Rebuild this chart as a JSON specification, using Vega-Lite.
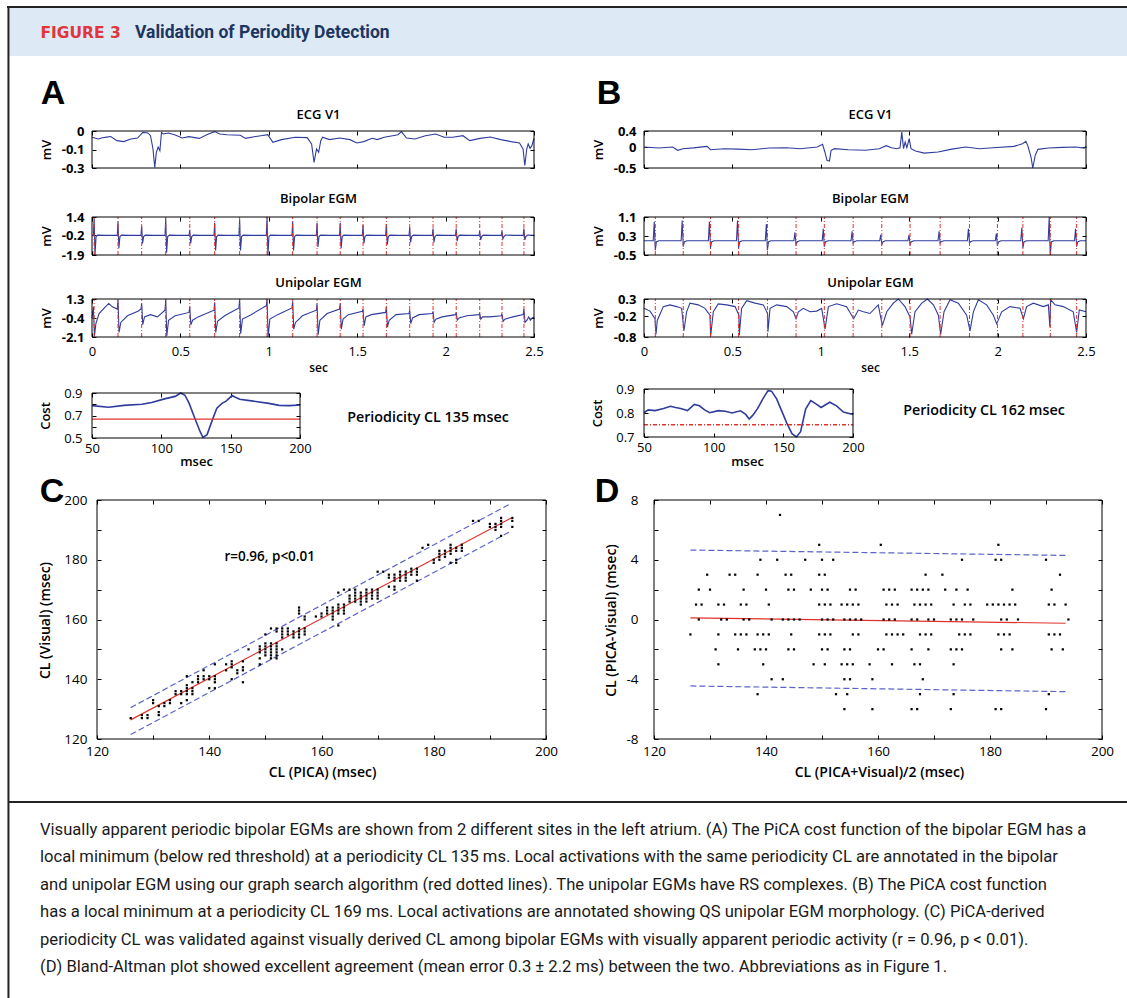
{
"$schema":"https://vega.github.io/schema/vega-lite/v6.json",
"width":1127,"height":998,"autosize":{"type":"none"},"padding":0,"background":"white",
"config":{"view":{"stroke":null},
"axis":{"grid":false,"domain":false,"ticks":true,"tickColor":"#000","tickSize":-4,"tickWidth":1,"labelFont":"Open Sans","labelFontSize":13,"labelColor":"#000","labelPadding":12,"labelFlush":false,"labelOverlap":false,"titleFont":"Open Sans","titleFontSize":13,"titleFontWeight":600,"titleColor":"#000","titlePadding":0}},
"data":{"values":[{}]},
"datasets":{
"ea":[{"t":0,"v":-0.05},{"t":0.035,"v":-0.065},{"t":0.06,"v":-0.055},{"t":0.083,"v":-0.05},{"t":0.106,"v":-0.045},{"t":0.141,"v":-0.078},{"t":0.18,"v":-0.086},{"t":0.219,"v":-0.065},{"t":0.258,"v":-0.057},{"t":0.287,"v":-0.011},{"t":0.316,"v":-0.016},{"t":0.331,"v":-0.038},{"t":0.345,"v":-0.146},{"t":0.355,"v":-0.295},{"t":0.364,"v":-0.173},{"t":0.374,"v":-0.13},{"t":0.384,"v":-0.16},{"t":0.393,"v":-0.011},{"t":0.403,"v":-0.024},{"t":0.432,"v":-0.016},{"t":0.471,"v":-0.032},{"t":0.51,"v":-0.057},{"t":0.548,"v":-0.046},{"t":0.607,"v":-0.06},{"t":0.655,"v":-0.027},{"t":0.694,"v":-0.005},{"t":0.723,"v":-0.024},{"t":0.762,"v":-0.03},{"t":0.839,"v":-0.035},{"t":0.868,"v":-0.06},{"t":0.917,"v":-0.046},{"t":0.955,"v":-0.038},{"t":0.994,"v":-0.03},{"t":1.023,"v":-0.092},{"t":1.072,"v":-0.07},{"t":1.149,"v":-0.051},{"t":1.217,"v":-0.054},{"t":1.242,"v":-0.105},{"t":1.256,"v":-0.254},{"t":1.27,"v":-0.146},{"t":1.282,"v":-0.173},{"t":1.294,"v":-0.078},{"t":1.304,"v":-0.051},{"t":1.343,"v":-0.07},{"t":1.401,"v":-0.057},{"t":1.459,"v":-0.07},{"t":1.498,"v":-0.097},{"t":1.537,"v":-0.086},{"t":1.585,"v":-0.059},{"t":1.614,"v":-0.07},{"t":1.653,"v":-0.051},{"t":1.731,"v":-0.03},{"t":1.75,"v":-0.005},{"t":1.779,"v":-0.057},{"t":1.827,"v":-0.065},{"t":1.886,"v":-0.038},{"t":1.944,"v":-0.024},{"t":1.992,"v":-0.051},{"t":2.04,"v":-0.051},{"t":2.098,"v":-0.038},{"t":2.137,"v":-0.078},{"t":2.195,"v":-0.06},{"t":2.253,"v":-0.049},{"t":2.312,"v":-0.07},{"t":2.37,"v":-0.086},{"t":2.418,"v":-0.097},{"t":2.438,"v":-0.146},{"t":2.448,"v":-0.28},{"t":2.459,"v":-0.146},{"t":2.467,"v":-0.105},{"t":2.478,"v":-0.14},{"t":2.488,"v":-0.119},{"t":2.5,"v":-0.06}],
"eb":[{"t":0,"v":0.01},{"t":0.084,"v":-0.015},{"t":0.162,"v":0.01},{"t":0.191,"v":-0.07},{"t":0.22,"v":-0.03},{"t":0.28,"v":-0.01},{"t":0.357,"v":0.026},{"t":0.376,"v":-0.055},{"t":0.454,"v":-0.03},{"t":0.532,"v":-0.04},{"t":0.61,"v":-0.055},{"t":0.708,"v":-0.015},{"t":0.805,"v":-0.007},{"t":0.883,"v":-0.03},{"t":0.98,"v":0.01},{"t":1.01,"v":0.075},{"t":1.023,"v":-0.11},{"t":1.035,"v":-0.315},{"t":1.049,"v":-0.33},{"t":1.058,"v":-0.07},{"t":1.078,"v":-0.03},{"t":1.156,"v":-0.055},{"t":1.253,"v":-0.07},{"t":1.331,"v":-0.03},{"t":1.37,"v":0.042},{"t":1.4,"v":-0.007},{"t":1.429,"v":-0.03},{"t":1.448,"v":-0.007},{"t":1.458,"v":0.375},{"t":1.468,"v":-0.03},{"t":1.477,"v":0.132},{"t":1.487,"v":-0.007},{"t":1.5,"v":0.213},{"t":1.51,"v":-0.03},{"t":1.536,"v":-0.088},{"t":1.585,"v":-0.137},{"t":1.663,"v":-0.112},{"t":1.741,"v":-0.04},{"t":1.819,"v":0.01},{"t":1.897,"v":-0.03},{"t":1.975,"v":-0.007},{"t":2.092,"v":0.026},{"t":2.141,"v":0.09},{"t":2.16,"v":0.148},{"t":2.17,"v":0.05},{"t":2.189,"v":-0.234},{"t":2.199,"v":-0.5},{"t":2.213,"v":-0.19},{"t":2.228,"v":-0.047},{"t":2.287,"v":-0.015},{"t":2.365,"v":0.002},{"t":2.442,"v":0.01},{"t":2.49,"v":-0.015},{"t":2.5,"v":0.026}],
"ba":[{"t":0,"v":-0.2},{"t":0.008,"v":-0.2},{"t":0.012,"v":1.3},{"t":0.017,"v":-1.9},{"t":0.023,"v":-0.3},{"t":0.032,"v":-0.17},{"t":0.08,"v":-0.2},{"t":0.143,"v":-0.2},{"t":0.147,"v":1.0},{"t":0.152,"v":-1.3},{"t":0.158,"v":-0.3},{"t":0.167,"v":-0.17},{"t":0.215,"v":-0.2},{"t":0.277,"v":-0.2},{"t":0.281,"v":0.6},{"t":0.286,"v":-0.9},{"t":0.292,"v":-0.3},{"t":0.301,"v":-0.17},{"t":0.35,"v":-0.2},{"t":0.413,"v":-0.2},{"t":0.417,"v":1.3},{"t":0.422,"v":-1.7},{"t":0.428,"v":-0.3},{"t":0.437,"v":-0.17},{"t":0.485,"v":-0.2},{"t":0.549,"v":-0.2},{"t":0.553,"v":0.3},{"t":0.558,"v":-0.9},{"t":0.564,"v":-0.3},{"t":0.573,"v":-0.17},{"t":0.62,"v":-0.2},{"t":0.69,"v":-0.2},{"t":0.694,"v":0.9},{"t":0.699,"v":-1.5},{"t":0.705,"v":-0.3},{"t":0.714,"v":-0.17},{"t":0.76,"v":-0.2},{"t":0.831,"v":-0.2},{"t":0.835,"v":1.2},{"t":0.84,"v":-1.5},{"t":0.846,"v":-0.3},{"t":0.855,"v":-0.17},{"t":0.9,"v":-0.2},{"t":0.986,"v":-0.2},{"t":0.99,"v":1.4},{"t":0.995,"v":-1.9},{"t":1.001,"v":-0.3},{"t":1.01,"v":-0.17},{"t":1.06,"v":-0.2},{"t":1.131,"v":-0.2},{"t":1.135,"v":1.0},{"t":1.14,"v":-1.5},{"t":1.146,"v":-0.3},{"t":1.155,"v":-0.17},{"t":1.2,"v":-0.2},{"t":1.269,"v":-0.2},{"t":1.273,"v":0.9},{"t":1.278,"v":-1.2},{"t":1.284,"v":-0.3},{"t":1.293,"v":-0.17},{"t":1.34,"v":-0.2},{"t":1.4,"v":-0.2},{"t":1.404,"v":0.9},{"t":1.409,"v":-1.3},{"t":1.415,"v":-0.3},{"t":1.424,"v":-0.17},{"t":1.47,"v":-0.2},{"t":1.529,"v":-0.2},{"t":1.533,"v":0.7},{"t":1.538,"v":-0.9},{"t":1.544,"v":-0.3},{"t":1.553,"v":-0.17},{"t":1.6,"v":-0.2},{"t":1.661,"v":-0.2},{"t":1.665,"v":0.8},{"t":1.67,"v":-1.0},{"t":1.676,"v":-0.3},{"t":1.685,"v":-0.17},{"t":1.73,"v":-0.2},{"t":1.793,"v":-0.2},{"t":1.797,"v":0.5},{"t":1.802,"v":-0.8},{"t":1.808,"v":-0.3},{"t":1.817,"v":-0.17},{"t":1.86,"v":-0.2},{"t":1.925,"v":-0.2},{"t":1.929,"v":0.4},{"t":1.934,"v":-0.8},{"t":1.94,"v":-0.3},{"t":1.949,"v":-0.17},{"t":2.0,"v":-0.2},{"t":2.056,"v":-0.2},{"t":2.06,"v":0.4},{"t":2.065,"v":-0.7},{"t":2.071,"v":-0.3},{"t":2.08,"v":-0.17},{"t":2.13,"v":-0.2},{"t":2.189,"v":-0.2},{"t":2.193,"v":0.2},{"t":2.198,"v":-0.6},{"t":2.204,"v":-0.3},{"t":2.213,"v":-0.17},{"t":2.26,"v":-0.2},{"t":2.315,"v":-0.2},{"t":2.319,"v":0.2},{"t":2.324,"v":-0.5},{"t":2.33,"v":-0.3},{"t":2.339,"v":-0.17},{"t":2.39,"v":-0.2},{"t":2.439,"v":-0.2},{"t":2.443,"v":0.4},{"t":2.448,"v":-0.6},{"t":2.454,"v":-0.3},{"t":2.463,"v":-0.17},{"t":2.5,"v":-0.18}],
"ua":[{"t":0,"v":-0.4},{"t":0.008,"v":0.6},{"t":0.014,"v":-2.0},{"t":0.022,"v":-0.9},{"t":0.04,"v":0.0},{"t":0.07,"v":0.5},{"t":0.095,"v":0.9},{"t":0.115,"v":0.6},{"t":0.143,"v":0.4},{"t":0.147,"v":1.2},{"t":0.153,"v":-1.7},{"t":0.163,"v":-0.8},{"t":0.2,"v":-0.2},{"t":0.26,"v":0.2},{"t":0.277,"v":0.4},{"t":0.281,"v":0.9},{"t":0.287,"v":-1.0},{"t":0.297,"v":-0.3},{"t":0.33,"v":-0.1},{"t":0.37,"v":-0.3},{"t":0.413,"v":0.3},{"t":0.417,"v":1.3},{"t":0.423,"v":-2.0},{"t":0.433,"v":-0.6},{"t":0.47,"v":-0.2},{"t":0.549,"v":0.1},{"t":0.553,"v":0.6},{"t":0.559,"v":-1.0},{"t":0.569,"v":-0.6},{"t":0.6,"v":-0.3},{"t":0.69,"v":0.3},{"t":0.694,"v":1.0},{"t":0.7,"v":-1.7},{"t":0.71,"v":-0.7},{"t":0.75,"v":-0.2},{"t":0.831,"v":0.5},{"t":0.835,"v":1.3},{"t":0.841,"v":-1.8},{"t":0.851,"v":-0.5},{"t":0.9,"v":-0.1},{"t":0.986,"v":0.7},{"t":0.99,"v":1.3},{"t":0.996,"v":-2.1},{"t":1.006,"v":-0.5},{"t":1.05,"v":-0.1},{"t":1.131,"v":0.5},{"t":1.135,"v":1.1},{"t":1.141,"v":-1.4},{"t":1.151,"v":-0.8},{"t":1.19,"v":-0.2},{"t":1.269,"v":0.3},{"t":1.273,"v":0.9},{"t":1.279,"v":-1.9},{"t":1.289,"v":-0.6},{"t":1.33,"v":0.0},{"t":1.4,"v":0.4},{"t":1.404,"v":0.9},{"t":1.41,"v":-1.4},{"t":1.42,"v":-0.5},{"t":1.45,"v":-0.1},{"t":1.529,"v":0.2},{"t":1.533,"v":0.4},{"t":1.539,"v":-1.1},{"t":1.549,"v":-0.3},{"t":1.58,"v":-0.1},{"t":1.661,"v":0.1},{"t":1.665,"v":0.6},{"t":1.671,"v":-1.2},{"t":1.681,"v":-0.6},{"t":1.72,"v":-0.1},{"t":1.793,"v":0.0},{"t":1.797,"v":0.3},{"t":1.803,"v":-0.9},{"t":1.813,"v":-0.4},{"t":1.85,"v":-0.1},{"t":1.925,"v":0.0},{"t":1.929,"v":0.2},{"t":1.935,"v":-0.8},{"t":1.945,"v":-0.5},{"t":1.98,"v":-0.3},{"t":2.056,"v":-0.1},{"t":2.06,"v":0.1},{"t":2.066,"v":-0.6},{"t":2.076,"v":-0.4},{"t":2.12,"v":-0.2},{"t":2.189,"v":-0.1},{"t":2.193,"v":0.0},{"t":2.199,"v":-0.5},{"t":2.209,"v":-0.3},{"t":2.25,"v":-0.3},{"t":2.315,"v":-0.2},{"t":2.319,"v":0.0},{"t":2.325,"v":-0.7},{"t":2.335,"v":-0.5},{"t":2.38,"v":-0.3},{"t":2.439,"v":-0.1},{"t":2.443,"v":0.4},{"t":2.449,"v":-0.8},{"t":2.46,"v":-0.6},{"t":2.47,"v":-0.3},{"t":2.48,"v":-0.6},{"t":2.49,"v":-0.4},{"t":2.5,"v":-0.3}],
"bb":[{"t":0,"v":0.1},{"t":0.052,"v":0.1},{"t":0.058,"v":0.9},{"t":0.064,"v":-0.3},{"t":0.07,"v":0.05},{"t":0.084,"v":0.1},{"t":0.21,"v":0.1},{"t":0.216,"v":0.95},{"t":0.222,"v":-0.15},{"t":0.228,"v":0.05},{"t":0.242,"v":0.1},{"t":0.364,"v":0.1},{"t":0.37,"v":0.9},{"t":0.376,"v":-0.2},{"t":0.382,"v":0.05},{"t":0.396,"v":0.1},{"t":0.523,"v":0.1},{"t":0.529,"v":0.95},{"t":0.535,"v":-0.2},{"t":0.541,"v":0.05},{"t":0.555,"v":0.1},{"t":0.686,"v":0.1},{"t":0.692,"v":0.8},{"t":0.698,"v":-0.3},{"t":0.704,"v":0.05},{"t":0.718,"v":0.1},{"t":0.848,"v":0.1},{"t":0.854,"v":0.45},{"t":0.86,"v":-0.05},{"t":0.866,"v":0.05},{"t":0.88,"v":0.1},{"t":1.008,"v":0.1},{"t":1.014,"v":0.6},{"t":1.02,"v":-0.15},{"t":1.026,"v":0.05},{"t":1.04,"v":0.1},{"t":1.171,"v":0.1},{"t":1.177,"v":0.5},{"t":1.183,"v":0.0},{"t":1.189,"v":0.06},{"t":1.203,"v":0.1},{"t":1.333,"v":0.1},{"t":1.339,"v":0.35},{"t":1.345,"v":-0.05},{"t":1.351,"v":0.05},{"t":1.365,"v":0.1},{"t":1.493,"v":0.1},{"t":1.499,"v":0.35},{"t":1.505,"v":-0.05},{"t":1.511,"v":0.05},{"t":1.525,"v":0.1},{"t":1.663,"v":0.1},{"t":1.669,"v":0.5},{"t":1.675,"v":0.0},{"t":1.681,"v":0.06},{"t":1.695,"v":0.1},{"t":1.829,"v":0.1},{"t":1.835,"v":0.6},{"t":1.841,"v":0.0},{"t":1.847,"v":0.06},{"t":1.861,"v":0.1},{"t":1.987,"v":0.1},{"t":1.993,"v":0.4},{"t":1.999,"v":-0.1},{"t":2.005,"v":0.05},{"t":2.019,"v":0.1},{"t":2.131,"v":0.1},{"t":2.137,"v":0.65},{"t":2.143,"v":-0.2},{"t":2.149,"v":0.05},{"t":2.163,"v":0.1},{"t":2.286,"v":0.1},{"t":2.292,"v":1.1},{"t":2.298,"v":-0.5},{"t":2.304,"v":0.05},{"t":2.318,"v":0.1},{"t":2.435,"v":0.1},{"t":2.441,"v":0.6},{"t":2.447,"v":-0.15},{"t":2.453,"v":0.05},{"t":2.467,"v":0.1},{"t":2.5,"v":0.1}],
"ub":[{"t":0,"v":0.03},{"t":0.034,"v":-0.05},{"t":0.062,"v":-0.27},{"t":0.068,"v":-0.72},{"t":0.075,"v":-0.32},{"t":0.109,"v":0.08},{"t":0.147,"v":0.13},{"t":0.185,"v":0.08},{"t":0.213,"v":0.03},{"t":0.226,"v":-0.62},{"t":0.241,"v":-0.07},{"t":0.26,"v":0.18},{"t":0.307,"v":0.13},{"t":0.345,"v":0.03},{"t":0.373,"v":-0.17},{"t":0.377,"v":-0.77},{"t":0.392,"v":-0.07},{"t":0.42,"v":0.16},{"t":0.468,"v":0.13},{"t":0.515,"v":0.08},{"t":0.537,"v":-0.17},{"t":0.539,"v":-0.75},{"t":0.552,"v":0.03},{"t":0.581,"v":0.25},{"t":0.628,"v":0.18},{"t":0.675,"v":0.13},{"t":0.699,"v":-0.12},{"t":0.701,"v":-0.65},{"t":0.713,"v":0.03},{"t":0.75,"v":0.13},{"t":0.807,"v":0.08},{"t":0.845,"v":-0.07},{"t":0.86,"v":-0.27},{"t":0.873,"v":-0.07},{"t":0.901,"v":0.03},{"t":0.939,"v":-0.07},{"t":0.977,"v":-0.05},{"t":1.005,"v":0.03},{"t":1.024,"v":-0.57},{"t":1.043,"v":0.08},{"t":1.09,"v":0.16},{"t":1.146,"v":0.08},{"t":1.186,"v":-0.27},{"t":1.212,"v":-0.02},{"t":1.241,"v":-0.07},{"t":1.278,"v":-0.12},{"t":1.325,"v":0.13},{"t":1.348,"v":-0.47},{"t":1.373,"v":-0.07},{"t":1.41,"v":0.18},{"t":1.439,"v":0.3},{"t":1.476,"v":0.08},{"t":1.505,"v":-0.22},{"t":1.514,"v":-0.72},{"t":1.533,"v":-0.07},{"t":1.571,"v":0.18},{"t":1.603,"v":0.3},{"t":1.637,"v":0.13},{"t":1.665,"v":-0.17},{"t":1.678,"v":-0.72},{"t":1.697,"v":-0.07},{"t":1.731,"v":0.28},{"t":1.778,"v":0.18},{"t":1.825,"v":-0.17},{"t":1.844,"v":-0.62},{"t":1.863,"v":-0.07},{"t":1.891,"v":0.28},{"t":1.938,"v":0.13},{"t":1.976,"v":-0.17},{"t":1.995,"v":-0.42},{"t":2.023,"v":-0.07},{"t":2.07,"v":0.08},{"t":2.127,"v":0.03},{"t":2.146,"v":-0.27},{"t":2.164,"v":0.08},{"t":2.202,"v":0.18},{"t":2.259,"v":0.08},{"t":2.287,"v":0.13},{"t":2.296,"v":-0.52},{"t":2.3,"v":0.28},{"t":2.325,"v":0.13},{"t":2.372,"v":0.08},{"t":2.428,"v":-0.07},{"t":2.447,"v":-0.67},{"t":2.462,"v":-0.02},{"t":2.5,"v":-0.07}],
"ra":[{"t":0.012},{"t":0.147},{"t":0.281},{"t":0.417},{"t":0.553},{"t":0.694},{"t":0.835},{"t":0.99},{"t":1.135},{"t":1.273},{"t":1.404},{"t":1.533},{"t":1.665},{"t":1.797},{"t":1.929},{"t":2.06},{"t":2.193},{"t":2.319},{"t":2.443}],
"rb":[{"t":0.064},{"t":0.222},{"t":0.376},{"t":0.535},{"t":0.698},{"t":0.86},{"t":1.02},{"t":1.183},{"t":1.345},{"t":1.505},{"t":1.675},{"t":1.841},{"t":1.999},{"t":2.143},{"t":2.298},{"t":2.447}],
"ca":[{"ms":50,"c":0.788},{"ms":62,"c":0.774},{"ms":73,"c":0.79},{"ms":86,"c":0.8},{"ms":93,"c":0.816},{"ms":103,"c":0.85},{"ms":110,"c":0.87},{"ms":114,"c":0.9},{"ms":117,"c":0.88},{"ms":120,"c":0.81},{"ms":124,"c":0.68},{"ms":128,"c":0.556},{"ms":130,"c":0.505},{"ms":133,"c":0.53},{"ms":136.5,"c":0.65},{"ms":140,"c":0.765},{"ms":144,"c":0.81},{"ms":146.5,"c":0.825},{"ms":149,"c":0.855},{"ms":151,"c":0.877},{"ms":153,"c":0.864},{"ms":156.5,"c":0.844},{"ms":165,"c":0.83},{"ms":177.5,"c":0.808},{"ms":185,"c":0.79},{"ms":192.5,"c":0.788},{"ms":200,"c":0.793}],
"cb":[{"ms":50,"c":0.801},{"ms":53,"c":0.813},{"ms":58,"c":0.81},{"ms":64,"c":0.819},{"ms":69,"c":0.828},{"ms":72.6,"c":0.823},{"ms":76.3,"c":0.819},{"ms":81.2,"c":0.81},{"ms":86.1,"c":0.836},{"ms":89.8,"c":0.83},{"ms":93.5,"c":0.813},{"ms":97.2,"c":0.801},{"ms":103.4,"c":0.81},{"ms":108.3,"c":0.807},{"ms":113.2,"c":0.8},{"ms":119.3,"c":0.809},{"ms":123,"c":0.794},{"ms":125.5,"c":0.775},{"ms":128,"c":0.79},{"ms":131.6,"c":0.819},{"ms":135.3,"c":0.859},{"ms":139,"c":0.893},{"ms":141.5,"c":0.891},{"ms":145.2,"c":0.859},{"ms":148.8,"c":0.809},{"ms":152.5,"c":0.758},{"ms":156.2,"c":0.714},{"ms":159.4,"c":0.7},{"ms":162.4,"c":0.722},{"ms":166,"c":0.816},{"ms":169.7,"c":0.852},{"ms":173.4,"c":0.838},{"ms":177.1,"c":0.823},{"ms":183.3,"c":0.845},{"ms":188.2,"c":0.83},{"ms":193.1,"c":0.804},{"ms":200,"c":0.794}],
"sc":[{"x":126,"y":127},{"x":128,"y":128},{"x":128,"y":127},{"x":129,"y":128},{"x":129,"y":127},{"x":130,"y":133},{"x":130,"y":132},{"x":131,"y":131},{"x":131,"y":129},{"x":131,"y":128},{"x":132,"y":132},{"x":132,"y":131},{"x":133,"y":133},{"x":133,"y":132},{"x":134,"y":136},{"x":134,"y":135},{"x":135,"y":136},{"x":135,"y":135},{"x":135,"y":132},{"x":136,"y":141},{"x":136,"y":138},{"x":136,"y":137},{"x":136,"y":136},{"x":136,"y":135},{"x":136,"y":133},{"x":137,"y":139},{"x":137,"y":137},{"x":137,"y":136},{"x":137,"y":135},{"x":138,"y":141},{"x":138,"y":140},{"x":138,"y":139},{"x":139,"y":143},{"x":139,"y":141},{"x":139,"y":140},{"x":140,"y":141},{"x":140,"y":140},{"x":140,"y":137},{"x":141,"y":145},{"x":141,"y":141},{"x":141,"y":140},{"x":141,"y":139},{"x":141,"y":137},{"x":143,"y":145},{"x":143,"y":143},{"x":144,"y":146},{"x":144,"y":145},{"x":144,"y":144},{"x":144,"y":140},{"x":145,"y":143},{"x":145,"y":142},{"x":146,"y":146},{"x":146,"y":144},{"x":146,"y":143},{"x":146,"y":139},{"x":147,"y":150},{"x":149,"y":151},{"x":149,"y":150},{"x":149,"y":149},{"x":149,"y":147},{"x":149,"y":145},{"x":150,"y":155},{"x":150,"y":152},{"x":150,"y":151},{"x":150,"y":150},{"x":150,"y":149},{"x":150,"y":148},{"x":151,"y":157},{"x":151,"y":152},{"x":151,"y":151},{"x":151,"y":150},{"x":151,"y":149},{"x":151,"y":148},{"x":151,"y":147},{"x":152,"y":157},{"x":152,"y":156},{"x":152,"y":152},{"x":152,"y":151},{"x":152,"y":150},{"x":152,"y":149},{"x":152,"y":148},{"x":152,"y":147},{"x":153,"y":157},{"x":153,"y":156},{"x":153,"y":155},{"x":153,"y":154},{"x":153,"y":150},{"x":154,"y":157},{"x":154,"y":156},{"x":154,"y":155},{"x":155,"y":156},{"x":155,"y":155},{"x":155,"y":154},{"x":156,"y":164},{"x":156,"y":163},{"x":156,"y":162},{"x":156,"y":157},{"x":156,"y":156},{"x":156,"y":155},{"x":156,"y":154},{"x":157,"y":161},{"x":157,"y":160},{"x":157,"y":157},{"x":157,"y":156},{"x":157,"y":155},{"x":159,"y":161},{"x":160,"y":162},{"x":160,"y":161},{"x":161,"y":164},{"x":161,"y":163},{"x":161,"y":162},{"x":162,"y":164},{"x":162,"y":163},{"x":162,"y":162},{"x":162,"y":161},{"x":162,"y":160},{"x":163,"y":169},{"x":163,"y":165},{"x":163,"y":164},{"x":163,"y":163},{"x":163,"y":162},{"x":163,"y":158},{"x":164,"y":170},{"x":164,"y":165},{"x":164,"y":164},{"x":164,"y":163},{"x":164,"y":162},{"x":165,"y":170},{"x":165,"y":168},{"x":165,"y":167},{"x":165,"y":166},{"x":166,"y":170},{"x":166,"y":169},{"x":166,"y":168},{"x":166,"y":167},{"x":166,"y":166},{"x":167,"y":169},{"x":167,"y":168},{"x":167,"y":167},{"x":167,"y":166},{"x":167,"y":165},{"x":168,"y":170},{"x":168,"y":169},{"x":168,"y":168},{"x":168,"y":167},{"x":168,"y":166},{"x":169,"y":170},{"x":169,"y":169},{"x":169,"y":168},{"x":169,"y":167},{"x":170,"y":176},{"x":170,"y":170},{"x":170,"y":169},{"x":170,"y":168},{"x":170,"y":167},{"x":171,"y":176},{"x":172,"y":175},{"x":172,"y":174},{"x":172,"y":171},{"x":173,"y":175},{"x":173,"y":174},{"x":173,"y":173},{"x":173,"y":171},{"x":173,"y":170},{"x":174,"y":176},{"x":174,"y":175},{"x":174,"y":174},{"x":174,"y":173},{"x":175,"y":176},{"x":175,"y":175},{"x":175,"y":174},{"x":175,"y":173},{"x":176,"y":177},{"x":176,"y":176},{"x":176,"y":175},{"x":177,"y":177},{"x":177,"y":176},{"x":177,"y":175},{"x":177,"y":173},{"x":178,"y":184},{"x":179,"y":185},{"x":180,"y":180},{"x":180,"y":179},{"x":181,"y":183},{"x":181,"y":182},{"x":181,"y":181},{"x":181,"y":180},{"x":182,"y":183},{"x":182,"y":182},{"x":182,"y":181},{"x":183,"y":185},{"x":183,"y":184},{"x":183,"y":183},{"x":183,"y":182},{"x":183,"y":179},{"x":184,"y":184},{"x":184,"y":183},{"x":184,"y":180},{"x":184,"y":179},{"x":185,"y":185},{"x":185,"y":184},{"x":185,"y":183},{"x":187,"y":193},{"x":188,"y":193},{"x":190,"y":192},{"x":190,"y":191},{"x":191,"y":192},{"x":191,"y":191},{"x":191,"y":190},{"x":192,"y":194},{"x":192,"y":193},{"x":192,"y":192},{"x":192,"y":191},{"x":192,"y":188},{"x":194,"y":194},{"x":194,"y":193},{"x":194,"y":191}],
"cfit":[{"x":126,"y":126.4},{"x":193.8,"y":194}],
"cband":[{"k":"u","x":126,"y":130.5},{"k":"u","x":193.8,"y":198.9},{"k":"l","x":126,"y":121.5},{"k":"l","x":193.8,"y":189.6}],
"sd":[{"x":142.5,"y":7},{"x":149.5,"y":5},{"x":160.5,"y":5},{"x":181.5,"y":5},{"x":139,"y":4},{"x":142,"y":4},{"x":147,"y":4},{"x":150,"y":4},{"x":152,"y":4},{"x":175,"y":4},{"x":181,"y":4},{"x":182,"y":4},{"x":190,"y":4},{"x":129.5,"y":3},{"x":133.5,"y":3},{"x":134.5,"y":3},{"x":138.5,"y":3},{"x":143.5,"y":3},{"x":144.5,"y":3},{"x":149.5,"y":3},{"x":150.5,"y":3},{"x":168.5,"y":3},{"x":171.5,"y":3},{"x":192.5,"y":3},{"x":128,"y":2},{"x":130,"y":2},{"x":136,"y":2},{"x":140,"y":2},{"x":144,"y":2},{"x":145,"y":2},{"x":148,"y":2},{"x":150,"y":2},{"x":151,"y":2},{"x":155,"y":2},{"x":156,"y":2},{"x":161,"y":2},{"x":162,"y":2},{"x":163,"y":2},{"x":166,"y":2},{"x":167,"y":2},{"x":168,"y":2},{"x":169,"y":2},{"x":172,"y":2},{"x":174,"y":2},{"x":176,"y":2},{"x":184,"y":2},{"x":191,"y":2},{"x":127.5,"y":1},{"x":128.5,"y":1},{"x":131.5,"y":1},{"x":132.5,"y":1},{"x":135.5,"y":1},{"x":136.5,"y":1},{"x":140.5,"y":1},{"x":149.5,"y":1},{"x":150.5,"y":1},{"x":151.5,"y":1},{"x":153.5,"y":1},{"x":154.5,"y":1},{"x":155.5,"y":1},{"x":156.5,"y":1},{"x":161.5,"y":1},{"x":162.5,"y":1},{"x":163.5,"y":1},{"x":166.5,"y":1},{"x":167.5,"y":1},{"x":168.5,"y":1},{"x":169.5,"y":1},{"x":173.5,"y":1},{"x":175.5,"y":1},{"x":176.5,"y":1},{"x":179.5,"y":1},{"x":180.5,"y":1},{"x":181.5,"y":1},{"x":182.5,"y":1},{"x":183.5,"y":1},{"x":184.5,"y":1},{"x":190.5,"y":1},{"x":191.5,"y":1},{"x":193.5,"y":1},{"x":128,"y":0},{"x":132,"y":0},{"x":133,"y":0},{"x":136,"y":0},{"x":137,"y":0},{"x":141,"y":0},{"x":143,"y":0},{"x":144,"y":0},{"x":145,"y":0},{"x":146,"y":0},{"x":150,"y":0},{"x":151,"y":0},{"x":152,"y":0},{"x":154,"y":0},{"x":155,"y":0},{"x":156,"y":0},{"x":157,"y":0},{"x":161,"y":0},{"x":162,"y":0},{"x":163,"y":0},{"x":166,"y":0},{"x":167,"y":0},{"x":169,"y":0},{"x":170,"y":0},{"x":173,"y":0},{"x":174,"y":0},{"x":175,"y":0},{"x":177,"y":0},{"x":182,"y":0},{"x":183,"y":0},{"x":185,"y":0},{"x":194,"y":0},{"x":126.5,"y":-1},{"x":131.5,"y":-1},{"x":134.5,"y":-1},{"x":135.5,"y":-1},{"x":136.5,"y":-1},{"x":138.5,"y":-1},{"x":139.5,"y":-1},{"x":140.5,"y":-1},{"x":144.5,"y":-1},{"x":149.5,"y":-1},{"x":150.5,"y":-1},{"x":151.5,"y":-1},{"x":155.5,"y":-1},{"x":156.5,"y":-1},{"x":161.5,"y":-1},{"x":162.5,"y":-1},{"x":163.5,"y":-1},{"x":164.5,"y":-1},{"x":167.5,"y":-1},{"x":168.5,"y":-1},{"x":169.5,"y":-1},{"x":174.5,"y":-1},{"x":175.5,"y":-1},{"x":176.5,"y":-1},{"x":181.5,"y":-1},{"x":182.5,"y":-1},{"x":183.5,"y":-1},{"x":190.5,"y":-1},{"x":191.5,"y":-1},{"x":192.5,"y":-1},{"x":131,"y":-2},{"x":135,"y":-2},{"x":138,"y":-2},{"x":139,"y":-2},{"x":140,"y":-2},{"x":144,"y":-2},{"x":145,"y":-2},{"x":150,"y":-2},{"x":151,"y":-2},{"x":154,"y":-2},{"x":155,"y":-2},{"x":160,"y":-2},{"x":161,"y":-2},{"x":166,"y":-2},{"x":169,"y":-2},{"x":173,"y":-2},{"x":174,"y":-2},{"x":175,"y":-2},{"x":182,"y":-2},{"x":184,"y":-2},{"x":191,"y":-2},{"x":193,"y":-2},{"x":131.5,"y":-3},{"x":139.5,"y":-3},{"x":148.5,"y":-3},{"x":150.5,"y":-3},{"x":153.5,"y":-3},{"x":154.5,"y":-3},{"x":155.5,"y":-3},{"x":158.5,"y":-3},{"x":162.5,"y":-3},{"x":166.5,"y":-3},{"x":167.5,"y":-3},{"x":173.5,"y":-3},{"x":141,"y":-4},{"x":143,"y":-4},{"x":154,"y":-4},{"x":155,"y":-4},{"x":159,"y":-4},{"x":168,"y":-4},{"x":138.5,"y":-5},{"x":152.5,"y":-5},{"x":154.5,"y":-5},{"x":167.5,"y":-5},{"x":173.5,"y":-5},{"x":190.5,"y":-5},{"x":154,"y":-6},{"x":159,"y":-6},{"x":166,"y":-6},{"x":167,"y":-6},{"x":173,"y":-6},{"x":181,"y":-6},{"x":182,"y":-6},{"x":190,"y":-6}],
"dfit":[{"x":126.5,"y":0.11},{"x":193.5,"y":-0.25}],
"dband":[{"k":"u","x":126.5,"y":4.65},{"k":"u","x":193.5,"y":4.29},{"k":"l","x":126.5,"y":-4.45},{"k":"l","x":193.5,"y":-4.83}],
"caption":[{"line":1,"text":"Visually apparent periodic bipolar EGMs are shown from 2 different sites in the left atrium. (A) The PiCA cost function of the bipolar EGM has a"},{"line":2,"text":"local minimum (below red threshold) at a periodicity CL 135 ms. Local activations with the same periodicity CL are annotated in the bipolar"},{"line":3,"text":"and unipolar EGM using our graph search algorithm (red dotted lines). The unipolar EGMs have RS complexes. (B) The PiCA cost function"},{"line":4,"text":"has a local minimum at a periodicity CL 169 ms. Local activations are annotated showing QS unipolar EGM morphology. (C) PiCA-derived"},{"line":5,"text":"periodicity CL was validated against visually derived CL among bipolar EGMs with visually apparent periodic activity (r = 0.96, p < 0.01)."},{"line":6,"text":"(D) Bland-Altman plot showed excellent agreement (mean error 0.3 ± 2.2 ms) between the two. Abbreviations as in Figure 1."}]
},
"layer":[
{"mark":{"type":"rect","color":"#dde9f5"},"encoding":{"x":{"datum":0.008,"type":"quantitative","scale":{"domain":[0,1],"range":[0,1127],"nice":false,"zero":false},"axis":null},"x2":{"datum":1},"y":{"datum":0.008,"type":"quantitative","scale":{"domain":[0,1],"range":[0,998],"nice":false,"zero":false},"axis":null},"y2":{"datum":0.0561}}},
{"mark":{"type":"rule","color":"#222","strokeWidth":2},"encoding":{"x":{"datum":0.0062,"type":"quantitative","scale":{"domain":[0,1],"range":[0,1127],"nice":false,"zero":false},"axis":null},"x2":{"datum":1},"y":{"datum":0.007,"type":"quantitative","scale":{"domain":[0,1],"range":[0,998],"nice":false,"zero":false},"axis":null}}},
{"mark":{"type":"rule","color":"#222","strokeWidth":2},"encoding":{"x":{"datum":0.0075,"type":"quantitative","scale":{"domain":[0,1],"range":[0,1127],"nice":false,"zero":false},"axis":null},"y":{"datum":0.006,"type":"quantitative","scale":{"domain":[0,1],"range":[0,998],"nice":false,"zero":false},"axis":null},"y2":{"datum":1}}},
{"mark":{"type":"rule","color":"#222","strokeWidth":2},"encoding":{"x":{"datum":0.0075,"type":"quantitative","scale":{"domain":[0,1],"range":[0,1127],"nice":false,"zero":false},"axis":null},"x2":{"datum":1},"y":{"datum":0.8036,"type":"quantitative","scale":{"domain":[0,1],"range":[0,998],"nice":false,"zero":false},"axis":null}}},
{"mark":{"type":"text","text":"FIGURE 3","font":"DejaVu Sans","fontWeight":"bold","fontSize":15.5,"color":"#e2353b","align":"left","baseline":"middle"},"encoding":{"x":{"datum":0.0359,"type":"quantitative","scale":{"domain":[0,1],"range":[0,1127],"nice":false,"zero":false},"axis":null},"y":{"datum":0.0335,"type":"quantitative","scale":{"domain":[0,1],"range":[0,998],"nice":false,"zero":false},"axis":null}}},
{"mark":{"type":"text","text":"Validation of Periodity Detection","font":"Roboto","fontWeight":"bold","fontSize":17.5,"color":"#1d3561","align":"left","baseline":"middle"},"encoding":{"x":{"datum":0.1198,"type":"quantitative","scale":{"domain":[0,1],"range":[0,1127],"nice":false,"zero":false},"axis":null},"y":{"datum":0.0335,"type":"quantitative","scale":{"domain":[0,1],"range":[0,998],"nice":false,"zero":false},"axis":null}}},
{"data":{"name":"caption"},"mark":{"type":"text","font":"Roboto","fontSize":16.6,"color":"#1a1a1a","align":"left","baseline":"middle"},"encoding":{"x":{"datum":0.0355,"type":"quantitative","scale":{"domain":[0,1],"range":[0,1127],"nice":false,"zero":false},"axis":null},"y":{"field":"line","type":"quantitative","scale":{"domain":[1,6],"range":[830,967],"nice":false,"zero":false},"axis":null},"text":{"field":"text"}}},

{"data":{"name":"ea"},"mark":{"type":"line","color":"#2f3c9e","strokeWidth":1.1},"encoding":{"x":{"field":"t","type":"quantitative","scale":{"domain":[0,2.5],"range":[92,534],"nice":false,"zero":false},"axis":{"orient":"bottom","offset":-830,"values":[0,0.5,1,1.5,2,2.5],"labels":false,"title":null}},"y":{"field":"v","type":"quantitative","scale":{"domain":[-0.3,0],"range":[168,131],"nice":false,"zero":false},"axis":{"orient":"left","offset":-92,"values":[-0.3,-0.15,0],"labelExpr":"datum.value == 0 ? '0' : datum.value > -0.2 ? '-0.1' : '-0.3'","labelFontWeight":"bold","title":"mV","titleX":-46,"titleY":149.5,"titleAngle":270,"titleAlign":"center","titleBaseline":"middle"}}}},
{"mark":{"type":"rect","filled":false,"color":"#000","strokeWidth":1},"encoding":{"x":{"datum":0,"type":"quantitative","scale":{"domain":[0,2.5],"range":[92,534],"nice":false,"zero":false},"axis":{"orient":"top","offset":-131,"values":[0,0.5,1,1.5,2,2.5],"labels":false,"title":"ECG V1","titleX":318,"titleY":-13,"titleAlign":"center","titleBaseline":"alphabetic"}},"x2":{"datum":2.5},"y":{"datum":-0.3,"type":"quantitative","scale":{"domain":[-0.3,0],"range":[168,131],"nice":false,"zero":false},"axis":{"orient":"right","offset":-593,"values":[-0.3,-0.15,0],"labels":false,"title":null}},"y2":{"datum":0}}},
{"mark":{"type":"text","text":"A","font":"Liberation Sans","fontWeight":"bold","fontSize":34,"color":"#000","align":"center","baseline":"middle"},"encoding":{"x":{"datum":-0.22,"type":"quantitative","scale":{"domain":[0,2.5],"range":[92,534],"nice":false,"zero":false},"axis":null},"y":{"datum":0.3,"type":"quantitative","scale":{"domain":[-0.3,0],"range":[168,131],"nice":false,"zero":false},"axis":null}}},

{"data":{"name":"ba"},"mark":{"type":"line","color":"#2f3c9e","strokeWidth":1.1},"encoding":{"x":{"field":"t","type":"quantitative","scale":{"domain":[0,2.5],"range":[92,534],"nice":false,"zero":false},"axis":{"orient":"bottom","offset":-743,"values":[0,0.5,1,1.5,2,2.5],"labels":false,"title":null}},"y":{"field":"v","type":"quantitative","scale":{"domain":[-1.9,1.4],"range":[255,217],"nice":false,"zero":false},"axis":{"orient":"left","offset":-92,"values":[-1.9,-0.2,1.4],"labelExpr":"'' + datum.value","labelFontWeight":"bold","title":"mV","titleX":-46,"titleY":236,"titleAngle":270,"titleAlign":"center","titleBaseline":"middle"}}}},
{"data":{"name":"ra"},"mark":{"type":"rule","color":"#e5322d","strokeWidth":1,"strokeDash":[4,2,1,2]},"encoding":{"x":{"field":"t","type":"quantitative","scale":{"domain":[0,2.5],"range":[92,534],"nice":false,"zero":false},"axis":null},"y":{"datum":-1.9,"type":"quantitative","scale":{"domain":[-1.9,1.4],"range":[255,217],"nice":false,"zero":false},"axis":null},"y2":{"datum":1.4}}},
{"mark":{"type":"rect","filled":false,"color":"#000","strokeWidth":1},"encoding":{"x":{"datum":0,"type":"quantitative","scale":{"domain":[0,2.5],"range":[92,534],"nice":false,"zero":false},"axis":{"orient":"top","offset":-217,"values":[0,0.5,1,1.5,2,2.5],"labels":false,"title":"Bipolar EGM","titleX":318,"titleY":-15,"titleAlign":"center","titleBaseline":"alphabetic"}},"x2":{"datum":2.5},"y":{"datum":-1.9,"type":"quantitative","scale":{"domain":[-1.9,1.4],"range":[255,217],"nice":false,"zero":false},"axis":{"orient":"right","offset":-593,"values":[-1.9,-0.2,1.4],"labels":false,"title":null}},"y2":{"datum":1.4}}},

{"data":{"name":"ua"},"mark":{"type":"line","color":"#2f3c9e","strokeWidth":1.1},"encoding":{"x":{"field":"t","type":"quantitative","scale":{"domain":[0,2.5],"range":[92,534],"nice":false,"zero":false},"axis":{"orient":"bottom","offset":-661,"values":[0,0.5,1,1.5,2,2.5],"labelExpr":"'' + datum.value","title":"sec","titleX":318,"titleY":34,"titleAlign":"center","titleBaseline":"alphabetic","titleFontSize":12}},"y":{"field":"v","type":"quantitative","scale":{"domain":[-2.1,1.3],"range":[337,299],"nice":false,"zero":false},"axis":{"orient":"left","offset":-92,"values":[-2.1,-0.4,1.3],"labelExpr":"'' + datum.value","labelFontWeight":"bold","title":"mV","titleX":-46,"titleY":318,"titleAngle":270,"titleAlign":"center","titleBaseline":"middle"}}}},
{"data":{"name":"ra"},"mark":{"type":"rule","color":"#e5322d","strokeWidth":1,"strokeDash":[4,2,1,2]},"encoding":{"x":{"field":"t","type":"quantitative","scale":{"domain":[0,2.5],"range":[92,534],"nice":false,"zero":false},"axis":null},"y":{"datum":-2.1,"type":"quantitative","scale":{"domain":[-2.1,1.3],"range":[337,299],"nice":false,"zero":false},"axis":null},"y2":{"datum":1.3}}},
{"mark":{"type":"rect","filled":false,"color":"#000","strokeWidth":1},"encoding":{"x":{"datum":0,"type":"quantitative","scale":{"domain":[0,2.5],"range":[92,534],"nice":false,"zero":false},"axis":{"orient":"top","offset":-299,"values":[0,0.5,1,1.5,2,2.5],"labels":false,"title":"Unipolar EGM","titleX":318,"titleY":-13,"titleAlign":"center","titleBaseline":"alphabetic"}},"x2":{"datum":2.5},"y":{"datum":-2.1,"type":"quantitative","scale":{"domain":[-2.1,1.3],"range":[337,299],"nice":false,"zero":false},"axis":{"orient":"right","offset":-593,"values":[-2.1,-0.4,1.3],"labels":false,"title":null}},"y2":{"datum":1.3}}},

{"data":{"name":"eb"},"mark":{"type":"line","color":"#2f3c9e","strokeWidth":1.1},"encoding":{"x":{"field":"t","type":"quantitative","scale":{"domain":[0,2.5],"range":[644,1086],"nice":false,"zero":false},"axis":{"orient":"bottom","offset":-830,"values":[0,0.5,1,1.5,2,2.5],"labels":false,"title":null}},"y":{"field":"v","type":"quantitative","scale":{"domain":[-0.5,0.4],"range":[168,131],"nice":false,"zero":false},"axis":{"orient":"left","offset":-644,"values":[-0.5,0,0.4],"labelExpr":"'' + datum.value","labelFontWeight":"bold","title":"mV","titleX":-46,"titleY":149.5,"titleAngle":270,"titleAlign":"center","titleBaseline":"middle"}}}},
{"mark":{"type":"rect","filled":false,"color":"#000","strokeWidth":1},"encoding":{"x":{"datum":0,"type":"quantitative","scale":{"domain":[0,2.5],"range":[644,1086],"nice":false,"zero":false},"axis":{"orient":"top","offset":-131,"values":[0,0.5,1,1.5,2,2.5],"labels":false,"title":"ECG V1","titleX":870,"titleY":-13,"titleAlign":"center","titleBaseline":"alphabetic"}},"x2":{"datum":2.5},"y":{"datum":-0.5,"type":"quantitative","scale":{"domain":[-0.5,0.4],"range":[168,131],"nice":false,"zero":false},"axis":{"orient":"right","offset":-41,"values":[-0.5,0,0.4],"labels":false,"title":null}},"y2":{"datum":0.4}}},
{"mark":{"type":"text","text":"B","font":"Liberation Sans","fontWeight":"bold","fontSize":34,"color":"#000","align":"center","baseline":"middle"},"encoding":{"x":{"datum":-0.198,"type":"quantitative","scale":{"domain":[0,2.5],"range":[644,1086],"nice":false,"zero":false},"axis":null},"y":{"datum":1.3,"type":"quantitative","scale":{"domain":[-0.5,0.4],"range":[168,131],"nice":false,"zero":false},"axis":null}}},

{"data":{"name":"bb"},"mark":{"type":"line","color":"#2f3c9e","strokeWidth":1.1},"encoding":{"x":{"field":"t","type":"quantitative","scale":{"domain":[0,2.5],"range":[644,1086],"nice":false,"zero":false},"axis":{"orient":"bottom","offset":-743,"values":[0,0.5,1,1.5,2,2.5],"labels":false,"title":null}},"y":{"field":"v","type":"quantitative","scale":{"domain":[-0.5,1.1],"range":[255,217],"nice":false,"zero":false},"axis":{"orient":"left","offset":-644,"values":[-0.5,0.3,1.1],"labelExpr":"'' + datum.value","labelFontWeight":"bold","title":"mV","titleX":-46,"titleY":236,"titleAngle":270,"titleAlign":"center","titleBaseline":"middle"}}}},
{"data":{"name":"rb"},"mark":{"type":"rule","color":"#e5322d","strokeWidth":1,"strokeDash":[4,2,1,2]},"encoding":{"x":{"field":"t","type":"quantitative","scale":{"domain":[0,2.5],"range":[644,1086],"nice":false,"zero":false},"axis":null},"y":{"datum":-0.5,"type":"quantitative","scale":{"domain":[-0.5,1.1],"range":[255,217],"nice":false,"zero":false},"axis":null},"y2":{"datum":1.1}}},
{"mark":{"type":"rect","filled":false,"color":"#000","strokeWidth":1},"encoding":{"x":{"datum":0,"type":"quantitative","scale":{"domain":[0,2.5],"range":[644,1086],"nice":false,"zero":false},"axis":{"orient":"top","offset":-217,"values":[0,0.5,1,1.5,2,2.5],"labels":false,"title":"Bipolar EGM","titleX":870,"titleY":-15,"titleAlign":"center","titleBaseline":"alphabetic"}},"x2":{"datum":2.5},"y":{"datum":-0.5,"type":"quantitative","scale":{"domain":[-0.5,1.1],"range":[255,217],"nice":false,"zero":false},"axis":{"orient":"right","offset":-41,"values":[-0.5,0.3,1.1],"labels":false,"title":null}},"y2":{"datum":1.1}}},

{"data":{"name":"ub"},"mark":{"type":"line","color":"#2f3c9e","strokeWidth":1.1},"encoding":{"x":{"field":"t","type":"quantitative","scale":{"domain":[0,2.5],"range":[644,1086],"nice":false,"zero":false},"axis":{"orient":"bottom","offset":-661,"values":[0,0.5,1,1.5,2,2.5],"labelExpr":"'' + datum.value","title":"sec","titleX":870,"titleY":34,"titleAlign":"center","titleBaseline":"alphabetic","titleFontSize":12}},"y":{"field":"v","type":"quantitative","scale":{"domain":[-0.8,0.3],"range":[337,299],"nice":false,"zero":false},"axis":{"orient":"left","offset":-644,"values":[-0.8,-0.2,0.3],"labelExpr":"'' + datum.value","labelFontWeight":"bold","title":"mV","titleX":-46,"titleY":318,"titleAngle":270,"titleAlign":"center","titleBaseline":"middle"}}}},
{"data":{"name":"rb"},"mark":{"type":"rule","color":"#e5322d","strokeWidth":1,"strokeDash":[4,2,1,2]},"encoding":{"x":{"field":"t","type":"quantitative","scale":{"domain":[0,2.5],"range":[644,1086],"nice":false,"zero":false},"axis":null},"y":{"datum":-0.8,"type":"quantitative","scale":{"domain":[-0.8,0.3],"range":[337,299],"nice":false,"zero":false},"axis":null},"y2":{"datum":0.3}}},
{"mark":{"type":"rect","filled":false,"color":"#000","strokeWidth":1},"encoding":{"x":{"datum":0,"type":"quantitative","scale":{"domain":[0,2.5],"range":[644,1086],"nice":false,"zero":false},"axis":{"orient":"top","offset":-299,"values":[0,0.5,1,1.5,2,2.5],"labels":false,"title":"Unipolar EGM","titleX":870,"titleY":-13,"titleAlign":"center","titleBaseline":"alphabetic"}},"x2":{"datum":2.5},"y":{"datum":-0.8,"type":"quantitative","scale":{"domain":[-0.8,0.3],"range":[337,299],"nice":false,"zero":false},"axis":{"orient":"right","offset":-41,"values":[-0.8,-0.2,0.3],"labels":false,"title":null}},"y2":{"datum":0.3}}},

{"data":{"name":"ca"},"mark":{"type":"line","color":"#2f3c9e","strokeWidth":1.6},"encoding":{"x":{"field":"ms","type":"quantitative","scale":{"domain":[50,200],"range":[92,300],"nice":false,"zero":false},"axis":{"orient":"bottom","offset":-560,"values":[50,100,150,200],"labelExpr":"'' + datum.value","labelPadding":8,"title":"msec","titleX":196,"titleY":27.5,"titleAlign":"center","titleBaseline":"alphabetic"}},"y":{"field":"c","type":"quantitative","scale":{"domain":[0.5,0.9],"range":[438,393],"nice":false,"zero":false},"axis":{"orient":"left","offset":-92,"values":[0.5,0.6,0.7,0.8,0.9],"labelExpr":"datum.value == 0.6 || datum.value == 0.8 ? '' : '' + datum.value","labelPadding":14,"title":"Cost","titleX":-47,"titleY":415.5,"titleAngle":270,"titleAlign":"center","titleBaseline":"middle"}}}},
{"mark":{"type":"rule","color":"#e5322d","strokeWidth":1.3},"encoding":{"x":{"datum":50,"type":"quantitative","scale":{"domain":[50,200],"range":[92,300],"nice":false,"zero":false},"axis":null},"x2":{"datum":200},"y":{"datum":0.668,"type":"quantitative","scale":{"domain":[0.5,0.9],"range":[438,393],"nice":false,"zero":false},"axis":null}}},
{"mark":{"type":"rect","filled":false,"color":"#000","strokeWidth":1},"encoding":{"x":{"datum":50,"type":"quantitative","scale":{"domain":[50,200],"range":[92,300],"nice":false,"zero":false},"axis":{"orient":"top","offset":-393,"values":[50,100,150,200],"labels":false,"title":null}},"x2":{"datum":200},"y":{"datum":0.5,"type":"quantitative","scale":{"domain":[0.5,0.9],"range":[438,393],"nice":false,"zero":false},"axis":{"orient":"right","offset":-827,"values":[0.5,0.6,0.7,0.8,0.9],"labels":false,"title":null}},"y2":{"datum":0.9}}},
{"mark":{"type":"text","text":"Periodicity CL 135 msec","font":"Open Sans","fontWeight":600,"fontSize":14.3,"color":"#000","align":"left","baseline":"middle"},"encoding":{"x":{"datum":234,"type":"quantitative","scale":{"domain":[50,200],"range":[92,300],"nice":false,"zero":false},"axis":null},"y":{"datum":0.68,"type":"quantitative","scale":{"domain":[0.5,0.9],"range":[438,393],"nice":false,"zero":false},"axis":null}}},

{"data":{"name":"cb"},"mark":{"type":"line","color":"#2f3c9e","strokeWidth":1.6},"encoding":{"x":{"field":"ms","type":"quantitative","scale":{"domain":[50,200],"range":[644,853],"nice":false,"zero":false},"axis":{"orient":"bottom","offset":-561,"values":[50,100,150,200],"labelExpr":"'' + datum.value","labelPadding":8,"title":"msec","titleX":747,"titleY":28.5,"titleAlign":"center","titleBaseline":"alphabetic"}},"y":{"field":"c","type":"quantitative","scale":{"domain":[0.7,0.9],"range":[437,389],"nice":false,"zero":false},"axis":{"orient":"left","offset":-644,"values":[0.7,0.8,0.9],"labelExpr":"'' + datum.value","labelPadding":14,"title":"Cost","titleX":-47,"titleY":413,"titleAngle":270,"titleAlign":"center","titleBaseline":"middle"}}}},
{"mark":{"type":"rule","color":"#e5322d","strokeWidth":1.3,"strokeDash":[4,2,1,2]},"encoding":{"x":{"datum":50,"type":"quantitative","scale":{"domain":[50,200],"range":[644,853],"nice":false,"zero":false},"axis":null},"x2":{"datum":200},"y":{"datum":0.751,"type":"quantitative","scale":{"domain":[0.7,0.9],"range":[437,389],"nice":false,"zero":false},"axis":null}}},
{"mark":{"type":"rect","filled":false,"color":"#000","strokeWidth":1},"encoding":{"x":{"datum":50,"type":"quantitative","scale":{"domain":[50,200],"range":[644,853],"nice":false,"zero":false},"axis":{"orient":"top","offset":-389,"values":[50,100,150,200],"labels":false,"title":null}},"x2":{"datum":200},"y":{"datum":0.7,"type":"quantitative","scale":{"domain":[0.7,0.9],"range":[437,389],"nice":false,"zero":false},"axis":{"orient":"right","offset":-274,"values":[0.7,0.8,0.9],"labels":false,"title":null}},"y2":{"datum":0.9}}},
{"mark":{"type":"text","text":"Periodicity CL 162 msec","font":"Open Sans","fontWeight":600,"fontSize":14.3,"color":"#000","align":"left","baseline":"middle"},"encoding":{"x":{"datum":236,"type":"quantitative","scale":{"domain":[50,200],"range":[644,853],"nice":false,"zero":false},"axis":null},"y":{"datum":0.81,"type":"quantitative","scale":{"domain":[0.7,0.9],"range":[437,389],"nice":false,"zero":false},"axis":null}}},

{"data":{"name":"cband"},"mark":{"type":"line","color":"#5b63c9","strokeWidth":1.2,"strokeDash":[6,3]},"encoding":{"x":{"field":"x","type":"quantitative","scale":{"domain":[120,200],"range":[97,546],"nice":false,"zero":false},"axis":null},"y":{"field":"y","type":"quantitative","scale":{"domain":[120,200],"range":[739,500],"nice":false,"zero":false},"axis":null},"detail":{"field":"k"}}},
{"data":{"name":"cfit"},"mark":{"type":"line","color":"#e0302a","strokeWidth":1.2},"encoding":{"x":{"field":"x","type":"quantitative","scale":{"domain":[120,200],"range":[97,546],"nice":false,"zero":false},"axis":null},"y":{"field":"y","type":"quantitative","scale":{"domain":[120,200],"range":[739,500],"nice":false,"zero":false},"axis":null}}},
{"data":{"name":"sc"},"mark":{"type":"square","size":5,"color":"#000","opacity":1},"encoding":{"x":{"field":"x","type":"quantitative","scale":{"domain":[120,200],"range":[97,546],"nice":false,"zero":false},"axis":{"orient":"bottom","offset":-259,"values":[120,130,140,150,160,170,180,190,200],"labelExpr":"datum.value % 20 == 0 ? '' + datum.value : ''","labelFontSize":13.5,"labelPadding":9,"title":"CL (PICA) (msec)","titleFontSize":14,"titleX":322,"titleY":37,"titleAlign":"center","titleBaseline":"alphabetic"}},"y":{"field":"y","type":"quantitative","scale":{"domain":[120,200],"range":[739,500],"nice":false,"zero":false},"axis":{"orient":"left","offset":-97,"values":[120,130,140,150,160,170,180,190,200],"labelExpr":"datum.value % 20 == 0 ? '' + datum.value : ''","labelFontSize":13.5,"labelPadding":14,"title":"CL (Visual) (msec)","titleFontSize":14,"titleX":-52,"titleY":620,"titleAngle":270,"titleAlign":"center","titleBaseline":"middle"}}}},
{"mark":{"type":"rect","filled":false,"color":"#000","strokeWidth":1},"encoding":{"x":{"datum":120,"type":"quantitative","scale":{"domain":[120,200],"range":[97,546],"nice":false,"zero":false},"axis":{"orient":"top","offset":-500,"values":[120,130,140,150,160,170,180,190,200],"labels":false,"title":null}},"x2":{"datum":200},"y":{"datum":120,"type":"quantitative","scale":{"domain":[120,200],"range":[739,500],"nice":false,"zero":false},"axis":{"orient":"right","offset":-581,"values":[120,130,140,150,160,170,180,190,200],"labels":false,"title":null}},"y2":{"datum":200}}},
{"mark":{"type":"text","text":"r=0.96, p<0.01","font":"Open Sans","fontWeight":600,"fontSize":13.5,"color":"#000","align":"left","baseline":"middle"},"encoding":{"x":{"datum":142.7,"type":"quantitative","scale":{"domain":[120,200],"range":[97,546],"nice":false,"zero":false},"axis":null},"y":{"datum":181,"type":"quantitative","scale":{"domain":[120,200],"range":[739,500],"nice":false,"zero":false},"axis":null}}},
{"mark":{"type":"text","text":"C","font":"Liberation Sans","fontWeight":"bold","fontSize":34,"color":"#000","align":"center","baseline":"middle"},"encoding":{"x":{"datum":112,"type":"quantitative","scale":{"domain":[120,200],"range":[97,546],"nice":false,"zero":false},"axis":null},"y":{"datum":202.7,"type":"quantitative","scale":{"domain":[120,200],"range":[739,500],"nice":false,"zero":false},"axis":null}}},

{"data":{"name":"dband"},"mark":{"type":"line","color":"#5b63c9","strokeWidth":1.2,"strokeDash":[6,3]},"encoding":{"x":{"field":"x","type":"quantitative","scale":{"domain":[120,200],"range":[654,1102],"nice":false,"zero":false},"axis":null},"y":{"field":"y","type":"quantitative","scale":{"domain":[-8,8],"range":[739,500],"nice":false,"zero":false},"axis":null},"detail":{"field":"k"}}},
{"data":{"name":"dfit"},"mark":{"type":"line","color":"#e0302a","strokeWidth":1.2},"encoding":{"x":{"field":"x","type":"quantitative","scale":{"domain":[120,200],"range":[654,1102],"nice":false,"zero":false},"axis":null},"y":{"field":"y","type":"quantitative","scale":{"domain":[-8,8],"range":[739,500],"nice":false,"zero":false},"axis":null}}},
{"data":{"name":"sd"},"mark":{"type":"square","size":5,"color":"#000","opacity":1},"encoding":{"x":{"field":"x","type":"quantitative","scale":{"domain":[120,200],"range":[654,1102],"nice":false,"zero":false},"axis":{"orient":"bottom","offset":-259,"values":[120,130,140,150,160,170,180,190,200],"labelExpr":"datum.value % 20 == 0 ? '' + datum.value : ''","labelFontSize":13.5,"labelPadding":9,"title":"CL (PICA+Visual)/2 (msec)","titleFontSize":14,"titleX":879,"titleY":37,"titleAlign":"center","titleBaseline":"alphabetic"}},"y":{"field":"y","type":"quantitative","scale":{"domain":[-8,8],"range":[739,500],"nice":false,"zero":false},"axis":{"orient":"left","offset":-654,"values":[-8,-6,-4,-2,0,2,4,6,8],"labelExpr":"datum.value % 4 == 0 ? '' + datum.value : ''","labelFontSize":13.5,"labelPadding":20,"title":"CL (PICA-Visual) (msec)","titleFontSize":14,"titleX":-43,"titleY":620,"titleAngle":270,"titleAlign":"center","titleBaseline":"middle"}}}},
{"mark":{"type":"rect","filled":false,"color":"#000","strokeWidth":1},"encoding":{"x":{"datum":120,"type":"quantitative","scale":{"domain":[120,200],"range":[654,1102],"nice":false,"zero":false},"axis":{"orient":"top","offset":-500,"values":[120,130,140,150,160,170,180,190,200],"labels":false,"title":null}},"x2":{"datum":200},"y":{"datum":-8,"type":"quantitative","scale":{"domain":[-8,8],"range":[739,500],"nice":false,"zero":false},"axis":{"orient":"right","offset":-25,"values":[-8,-6,-4,-2,0,2,4,6,8],"labels":false,"title":null}},"y2":{"datum":8}}},
{"mark":{"type":"text","text":"D","font":"Liberation Sans","fontWeight":"bold","fontSize":34,"color":"#000","align":"center","baseline":"middle"},"encoding":{"x":{"datum":111.6,"type":"quantitative","scale":{"domain":[120,200],"range":[654,1102],"nice":false,"zero":false},"axis":null},"y":{"datum":8.54,"type":"quantitative","scale":{"domain":[-8,8],"range":[739,500],"nice":false,"zero":false},"axis":null}}}
],
"resolve":{"scale":{"x":"independent","y":"independent"},"axis":{"x":"independent","y":"independent"}}
}
